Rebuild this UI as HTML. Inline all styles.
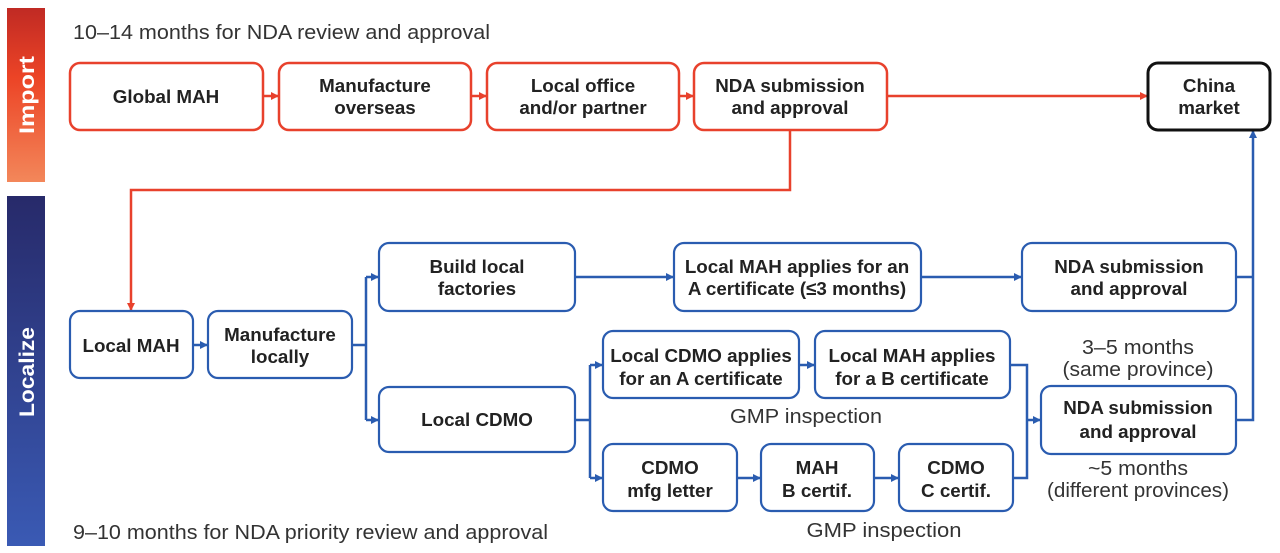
<!DOCTYPE html>
<html><head><meta charset="utf-8"><style>
body{margin:0;background:#fff;}
svg{display:block;font-family:"Liberation Sans",sans-serif;}
.r{fill:#fff;stroke:#e8412c;stroke-width:2.5}
.b{fill:#fff;stroke:#2a5cb0;stroke-width:2.2}
.t{font-size:18.8px;font-weight:600;fill:#222;text-anchor:middle}
.n{font-size:20px;fill:#333;text-anchor:middle}
.lr{stroke:#e8412c;stroke-width:2.5;fill:none}
.lb{stroke:#2a5cb0;stroke-width:2.5;fill:none}
</style></head><body>
<svg width="1280" height="553" viewBox="0 0 1280 553">
<defs>
<linearGradient id="gi" x1="0" y1="0" x2="0" y2="1"><stop offset="0" stop-color="#c02a24"/><stop offset="0.4" stop-color="#ec4426"/><stop offset="1" stop-color="#f3875a"/></linearGradient>
<linearGradient id="gl" x1="0" y1="0" x2="0" y2="1"><stop offset="0" stop-color="#272a6a"/><stop offset="1" stop-color="#3a5ab4"/></linearGradient>
<marker id="ar" markerWidth="8" markerHeight="8" refX="7" refY="4" orient="auto" markerUnits="userSpaceOnUse"><path d="M0,0 L8,4 L0,8z" fill="#e8412c"/></marker>
<marker id="ab" markerWidth="8" markerHeight="8" refX="7" refY="4" orient="auto" markerUnits="userSpaceOnUse"><path d="M0,0 L8,4 L0,8z" fill="#2a5cb0"/></marker>
</defs>
<rect x="7" y="8" width="38" height="174" fill="url(#gi)"/>
<rect x="7" y="196" width="38" height="350" fill="url(#gl)"/>
<text transform="translate(34,95) rotate(-90)" font-size="21" font-weight="700" fill="#fff" text-anchor="middle" textLength="78" lengthAdjust="spacingAndGlyphs">Import</text>
<text transform="translate(34,372) rotate(-90)" font-size="21" font-weight="700" fill="#fff" text-anchor="middle" textLength="90" lengthAdjust="spacingAndGlyphs">Localize</text>
<text x="73" y="39" font-size="20" fill="#333" textLength="417" lengthAdjust="spacingAndGlyphs">10–14 months for NDA review and approval</text>
<text x="73" y="539" font-size="20" fill="#333" textLength="475" lengthAdjust="spacingAndGlyphs">9–10 months for NDA priority review and approval</text>

<path class="lr" d="M263,96 H278" marker-end="url(#ar)"/>
<path class="lr" d="M471,96 H486" marker-end="url(#ar)"/>
<path class="lr" d="M679,96 H693" marker-end="url(#ar)"/>
<path class="lr" d="M887,96 H1147" marker-end="url(#ar)"/>
<path class="lr" d="M790,130 V190 H131 V310" marker-end="url(#ar)"/>

<path class="lb" d="M193,345 H207" marker-end="url(#ab)"/>
<path class="lb" d="M352,345 H366 M366,277 V420"/>
<path class="lb" d="M366,277 H378" marker-end="url(#ab)"/>
<path class="lb" d="M366,420 H378" marker-end="url(#ab)"/>
<path class="lb" d="M575,277 H673" marker-end="url(#ab)"/>
<path class="lb" d="M921,277 H1021" marker-end="url(#ab)"/>
<path class="lb" d="M575,420 H590 M590,365 V478"/>
<path class="lb" d="M590,365 H602" marker-end="url(#ab)"/>
<path class="lb" d="M590,478 H602" marker-end="url(#ab)"/>
<path class="lb" d="M799,365 H814" marker-end="url(#ab)"/>
<path class="lb" d="M737,478 H760" marker-end="url(#ab)"/>
<path class="lb" d="M874,478 H898" marker-end="url(#ab)"/>
<path class="lb" d="M1010,365 H1027 V478 H1013"/>
<path class="lb" d="M1027,420 H1040" marker-end="url(#ab)"/>
<path class="lb" d="M1236,277 H1253 M1236,420 H1253 V131" marker-end="url(#ab)"/>

<rect class="r" x="70" y="63" width="193" height="67" rx="10"/>
<text class="t" x="166" y="103">Global MAH</text>
<rect class="r" x="279" y="63" width="192" height="67" rx="10"/>
<text class="t" x="375" y="92">Manufacture</text><text class="t" x="375" y="114">overseas</text>
<rect class="r" x="487" y="63" width="192" height="67" rx="10"/>
<text class="t" x="583" y="92">Local office</text><text class="t" x="583" y="114">and/or partner</text>
<rect class="r" x="694" y="63" width="193" height="67" rx="10"/>
<text class="t" x="790" y="92">NDA submission</text><text class="t" x="790" y="114">and approval</text>
<rect x="1148" y="63" width="122" height="67" rx="10" fill="#fff" stroke="#111" stroke-width="3"/>
<text class="t" x="1209" y="92">China</text><text class="t" x="1209" y="114">market</text>

<rect class="b" x="70" y="311" width="123" height="67" rx="10"/>
<text class="t" x="131" y="352">Local MAH</text>
<rect class="b" x="208" y="311" width="144" height="67" rx="10"/>
<text class="t" x="280" y="341">Manufacture</text><text class="t" x="280" y="363">locally</text>
<rect class="b" x="379" y="243" width="196" height="68" rx="10"/>
<text class="t" x="477" y="273">Build local</text><text class="t" x="477" y="295">factories</text>
<rect class="b" x="674" y="243" width="247" height="68" rx="10"/>
<text class="t" x="797" y="273">Local MAH applies for an</text><text class="t" x="797" y="295">A certificate (≤3 months)</text>
<rect class="b" x="1022" y="243" width="214" height="68" rx="10"/>
<text class="t" x="1129" y="273">NDA submission</text><text class="t" x="1129" y="295">and approval</text>
<rect class="b" x="379" y="387" width="196" height="65" rx="10"/>
<text class="t" x="477" y="426">Local CDMO</text>
<rect class="b" x="603" y="331" width="196" height="67" rx="10"/>
<text class="t" x="701" y="362">Local CDMO applies</text><text class="t" x="701" y="385">for an A certificate</text>
<rect class="b" x="815" y="331" width="195" height="67" rx="10"/>
<text class="t" x="912" y="362">Local MAH applies</text><text class="t" x="912" y="385">for a B certificate</text>
<rect class="b" x="603" y="444" width="134" height="67" rx="10"/>
<text class="t" x="670" y="474">CDMO</text><text class="t" x="670" y="497">mfg letter</text>
<rect class="b" x="761" y="444" width="113" height="67" rx="10"/>
<text class="t" x="817" y="474">MAH</text><text class="t" x="817" y="497">B certif.</text>
<rect class="b" x="899" y="444" width="114" height="67" rx="10"/>
<text class="t" x="956" y="474">CDMO</text><text class="t" x="956" y="497">C certif.</text>
<rect class="b" x="1041" y="386" width="195" height="68" rx="10"/>
<text class="t" x="1138" y="414">NDA submission</text><text class="t" x="1138" y="438">and approval</text>

<text class="n" x="1138" y="354" textLength="112" lengthAdjust="spacingAndGlyphs">3–5 months</text><text class="n" x="1138" y="376" textLength="151" lengthAdjust="spacingAndGlyphs">(same province)</text>
<text class="n" x="1138" y="475" textLength="100" lengthAdjust="spacingAndGlyphs">~5 months</text><text class="n" x="1138" y="497" textLength="182" lengthAdjust="spacingAndGlyphs">(different provinces)</text>
<text class="n" x="806" y="423" textLength="152" lengthAdjust="spacingAndGlyphs">GMP inspection</text>
<text class="n" x="884" y="537" textLength="155" lengthAdjust="spacingAndGlyphs">GMP inspection</text>
</svg>
</body></html>
